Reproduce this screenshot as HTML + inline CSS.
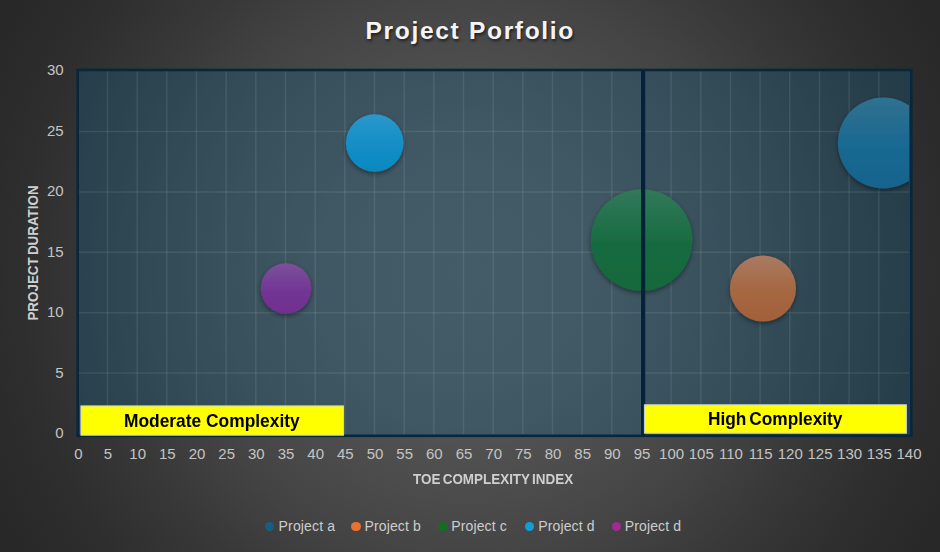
<!DOCTYPE html>
<html><head><meta charset="utf-8">
<style>
html,body{margin:0;padding:0;}
body{width:940px;height:552px;overflow:hidden;position:relative;font-family:"Liberation Sans",sans-serif;
background:radial-gradient(circle 545px at 470px 276px,#595959 0%,#585858 10%,#565656 20%,#535353 27.3%,#4b4b4b 41.5%,#464646 49.5%,#434343 54%,#383838 68%,#2e2e2e 83%,#2a2a2a 92%,#272727 100%);}
.t{position:absolute;white-space:nowrap;line-height:1;}
.xl{position:absolute;top:447px;width:40px;margin-left:-20px;text-align:center;font-size:15px;color:#c4c4c4;line-height:14px;}
.yl{position:absolute;left:23.2px;width:40.5px;text-align:right;font-size:15px;color:#c4c4c4;line-height:14px;margin-top:-7.5px;}
.lg{position:absolute;top:519px;letter-spacing:0.15px;font-size:14px;color:#cdcdcd;line-height:15px;white-space:nowrap;}
.dot{position:absolute;top:521.6px;width:9.5px;height:9.5px;margin-left:-0.25px;border-radius:50%;}
</style></head><body>
<svg width="940" height="552" style="position:absolute;left:0;top:0">
<defs>
<linearGradient id="gB" x1="0" y1="0" x2="0" y2="1"><stop offset="0" stop-color="#31708f"/><stop offset="0.55" stop-color="#196992"/><stop offset="1" stop-color="#14638d"/></linearGradient>
<linearGradient id="gO" x1="0" y1="0" x2="0" y2="1"><stop offset="0" stop-color="#a97a62"/><stop offset="0.55" stop-color="#a56741"/><stop offset="1" stop-color="#a2603a"/></linearGradient>
<linearGradient id="gG" x1="0" y1="0" x2="0" y2="1"><stop offset="0" stop-color="#32795a"/><stop offset="0.55" stop-color="#176b40"/><stop offset="1" stop-color="#13683c"/></linearGradient>
<linearGradient id="gL" x1="0" y1="0" x2="0" y2="1"><stop offset="0" stop-color="#2d97cb"/><stop offset="0.55" stop-color="#128ec6"/><stop offset="1" stop-color="#0f88bf"/></linearGradient>
<linearGradient id="gP" x1="0" y1="0" x2="0" y2="1"><stop offset="0" stop-color="#7c519b"/><stop offset="0.55" stop-color="#733593"/><stop offset="1" stop-color="#6f2f8e"/></linearGradient>
<filter id="sh" x="-30%" y="-30%" width="160%" height="160%"><feGaussianBlur in="SourceAlpha" stdDeviation="2.5"/><feOffset dx="0" dy="2" result="b"/><feComponentTransfer><feFuncA type="linear" slope="0.45"/></feComponentTransfer><feMerge><feMergeNode/><feMergeNode in="SourceGraphic"/></feMerge></filter>
<clipPath id="cp"><rect x="78" y="70" width="831" height="365"/></clipPath>
</defs>
<rect x="78" y="70" width="832" height="365" fill="rgba(20,98,138,0.30)"/>
<g stroke="rgba(255,255,255,0.085)" stroke-width="1.5"><line x1="107.5" y1="71" x2="107.5" y2="434.5"/><line x1="137.2" y1="71" x2="137.2" y2="434.5"/><line x1="166.8" y1="71" x2="166.8" y2="434.5"/><line x1="196.5" y1="71" x2="196.5" y2="434.5"/><line x1="226.2" y1="71" x2="226.2" y2="434.5"/><line x1="255.8" y1="71" x2="255.8" y2="434.5"/><line x1="285.5" y1="71" x2="285.5" y2="434.5"/><line x1="315.2" y1="71" x2="315.2" y2="434.5"/><line x1="344.8" y1="71" x2="344.8" y2="434.5"/><line x1="374.5" y1="71" x2="374.5" y2="434.5"/><line x1="404.2" y1="71" x2="404.2" y2="434.5"/><line x1="433.8" y1="71" x2="433.8" y2="434.5"/><line x1="463.5" y1="71" x2="463.5" y2="434.5"/><line x1="493.2" y1="71" x2="493.2" y2="434.5"/><line x1="522.8" y1="71" x2="522.8" y2="434.5"/><line x1="552.5" y1="71" x2="552.5" y2="434.5"/><line x1="582.2" y1="71" x2="582.2" y2="434.5"/><line x1="611.8" y1="71" x2="611.8" y2="434.5"/><line x1="641.5" y1="71" x2="641.5" y2="434.5"/><line x1="671.1" y1="71" x2="671.1" y2="434.5"/><line x1="700.8" y1="71" x2="700.8" y2="434.5"/><line x1="730.5" y1="71" x2="730.5" y2="434.5"/><line x1="760.1" y1="71" x2="760.1" y2="434.5"/><line x1="789.8" y1="71" x2="789.8" y2="434.5"/><line x1="819.5" y1="71" x2="819.5" y2="434.5"/><line x1="849.1" y1="71" x2="849.1" y2="434.5"/><line x1="878.8" y1="71" x2="878.8" y2="434.5"/><line x1="79" y1="373.0" x2="909" y2="373.0"/><line x1="79" y1="312.7" x2="909" y2="312.7"/><line x1="79" y1="252.3" x2="909" y2="252.3"/><line x1="79" y1="192.0" x2="909" y2="192.0"/><line x1="79" y1="131.6" x2="909" y2="131.6"/></g>
<rect x="77.7" y="70" width="833.6" height="365.8" fill="none" stroke="#06273d" stroke-width="2.6"/>
<g clip-path="url(#cp)">
<circle cx="374.7" cy="143" r="28.8" fill="url(#gL)" filter="url(#sh)"/>
<circle cx="286" cy="288.5" r="25.3" fill="url(#gP)" filter="url(#sh)"/>
<circle cx="641.6" cy="240" r="50.8" fill="url(#gG)" filter="url(#sh)"/>
<circle cx="763" cy="288.4" r="33" fill="url(#gO)" filter="url(#sh)"/>
<circle cx="883.4" cy="143" r="45.5" fill="url(#gB)" filter="url(#sh)"/>
</g>
<rect x="641" y="70" width="4.2" height="366" fill="#04223a"/>
<rect x="80.9" y="405.9" width="262.6" height="29.3" fill="#ffff00" stroke="#c9d3da" stroke-width="1"/>
<rect x="644.4" y="404.8" width="262" height="28.4" fill="#ffff00" stroke="#c9d3da" stroke-width="1"/>
</svg>
<div class="t" id="title" style="left:365.5px;top:19.1px;font-size:24.6px;font-weight:bold;color:#f4f4f4;letter-spacing:1.65px;text-shadow:1px 2px 3px rgba(0,0,0,0.6);">Project Porfolio</div>
<div class="t" id="xt" style="left:413.3px;top:472px;font-size:14px;font-weight:bold;color:#cfcfcf;word-spacing:-1.5px;transform-origin:0 0;transform:scaleX(0.96);">TOE COMPLEXITY INDEX</div>
<div class="t" id="yt" style="left:33px;top:252.6px;font-size:14px;font-weight:bold;color:#cfcfcf;word-spacing:-1.5px;transform:translate(-50%,-50%) rotate(-90deg) scaleX(0.956);">PROJECT DURATION</div>
<div class="t" id="mc" style="left:123.5px;top:413.3px;font-size:17.8px;font-weight:bold;color:#000;transform-origin:0 0;transform:scaleX(0.977);">Moderate Complexity</div>
<div class="t" id="hc" style="left:707.7px;top:411.3px;font-size:17.8px;font-weight:bold;color:#000;word-spacing:-2px;transform-origin:0 0;transform:scaleX(0.972);">High Complexity</div>
<div class="xl" style="left:78.3px">0</div><div class="xl" style="left:108.0px">5</div><div class="xl" style="left:137.7px">10</div><div class="xl" style="left:167.3px">15</div><div class="xl" style="left:197.0px">20</div><div class="xl" style="left:226.7px">25</div><div class="xl" style="left:256.3px">30</div><div class="xl" style="left:286.0px">35</div><div class="xl" style="left:315.7px">40</div><div class="xl" style="left:345.3px">45</div><div class="xl" style="left:375.0px">50</div><div class="xl" style="left:404.7px">55</div><div class="xl" style="left:434.3px">60</div><div class="xl" style="left:464.0px">65</div><div class="xl" style="left:493.7px">70</div><div class="xl" style="left:523.3px">75</div><div class="xl" style="left:553.0px">80</div><div class="xl" style="left:582.7px">85</div><div class="xl" style="left:612.3px">90</div><div class="xl" style="left:642.0px">95</div><div class="xl" style="left:671.6px">100</div><div class="xl" style="left:701.3px">105</div><div class="xl" style="left:731.0px">110</div><div class="xl" style="left:760.6px">115</div><div class="xl" style="left:790.3px">120</div><div class="xl" style="left:820.0px">125</div><div class="xl" style="left:849.6px">130</div><div class="xl" style="left:879.3px">135</div><div class="xl" style="left:909.0px">140</div>
<div class="yl" style="top:433.5px">0</div><div class="yl" style="top:373.0px">5</div><div class="yl" style="top:312.5px">10</div><div class="yl" style="top:252.0px">15</div><div class="yl" style="top:191.5px">20</div><div class="yl" style="top:131.0px">25</div><div class="yl" style="top:70.5px">30</div>
<div class="dot" style="left:264.8px;background:#156082"></div><div class="lg" style="left:278.6px">Project a</div>
<div class="dot" style="left:351.5px;background:#e97132"></div><div class="lg" style="left:364.4px">Project b</div>
<div class="dot" style="left:438.5px;background:#196b24"></div><div class="lg" style="left:451.2px">Project c</div>
<div class="dot" style="left:524.9px;background:#0f9ed5"></div><div class="lg" style="left:538.2px">Project d</div>
<div class="dot" style="left:612.2px;background:#a02b93"></div><div class="lg" style="left:624.7px">Project d</div>
</body></html>
